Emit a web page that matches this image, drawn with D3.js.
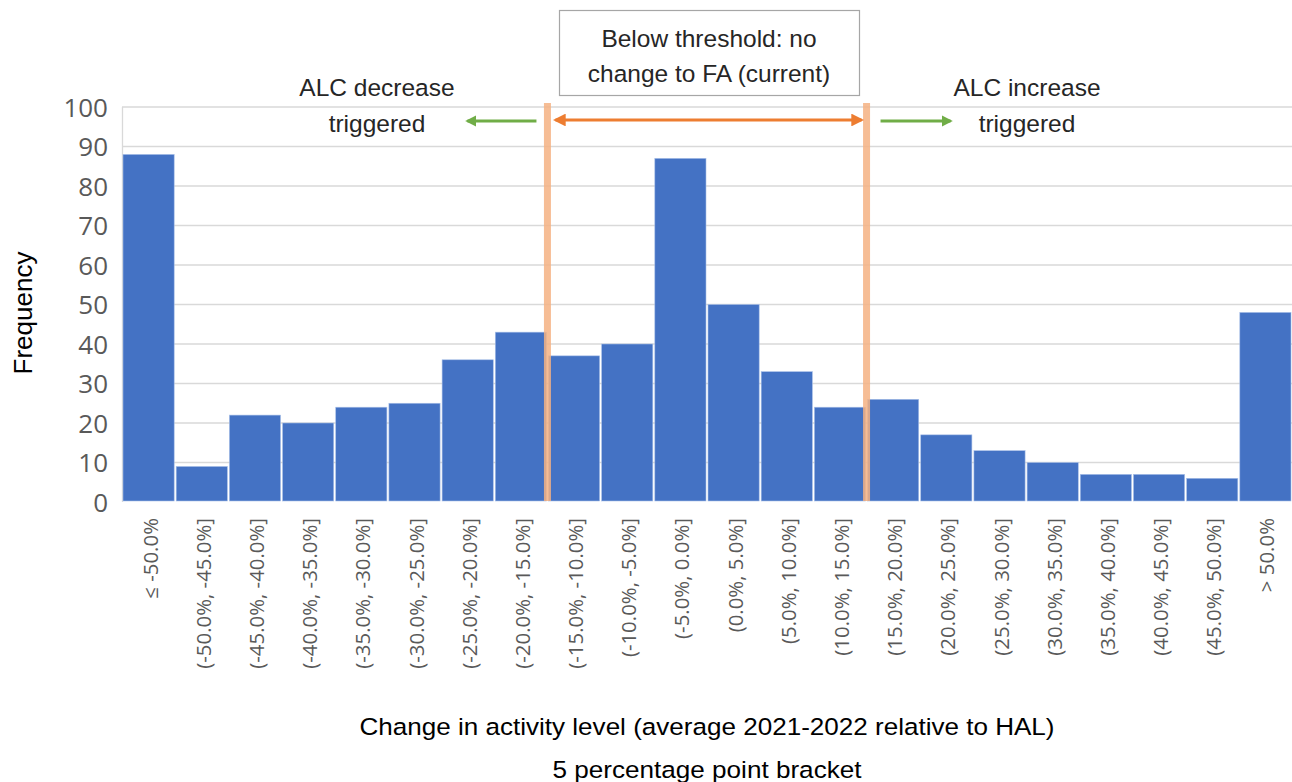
<!DOCTYPE html>
<html>
<head>
<meta charset="utf-8">
<script src="https://cdn.jsdelivr.net/npm/d3@7"></script>
<style>
  html, body { margin: 0; padding: 0; background: #fff; }
  svg { display: block; }
</style>
</head>
<body>
<svg id="chart" width="1292" height="782"></svg>
<script>
// Histogram buckets (5 percentage point brackets) and their frequencies
const categories = [
  "≤ -50.0%", "(-50.0%, -45.0%]", "(-45.0%, -40.0%]", "(-40.0%, -35.0%]",
  "(-35.0%, -30.0%]", "(-30.0%, -25.0%]", "(-25.0%, -20.0%]", "(-20.0%, -15.0%]",
  "(-15.0%, -10.0%]", "(-10.0%, -5.0%]", "(-5.0%, 0.0%]", "(0.0%, 5.0%]",
  "(5.0%, 10.0%]", "(10.0%, 15.0%]", "(15.0%, 20.0%]", "(20.0%, 25.0%]",
  "(25.0%, 30.0%]", "(30.0%, 35.0%]", "(35.0%, 40.0%]", "(40.0%, 45.0%]",
  "(45.0%, 50.0%]", "> 50.0%"
];
const frequencies = [88, 9, 22, 20, 24, 25, 36, 43, 37, 40, 87, 50, 33, 24, 26, 17, 13, 10, 7, 7, 6, 48];
const yTicks = [0, 10, 20, 30, 40, 50, 60, 70, 80, 90, 100];

// Threshold band: first bucket inside the band, and first bucket after it
const thresholdStart = 8;
const thresholdEnd = 14;

const svg = d3.select("#chart");
const plot = { left: 122, right: 1292, top: 107, bottom: 502 };

const x = d3.scaleBand().domain(categories).range([plot.left, plot.right]).paddingInner(0).paddingOuter(0);
const y = d3.scaleLinear().domain([0, 100]).range([plot.bottom, plot.top]);

const sans = "'Liberation Sans', Arial, sans-serif";
const tickFont = "'Open Sans', 'Segoe UI', sans-serif";

// Gridlines
svg.append("g")
  .selectAll("line")
  .data(yTicks.filter(d => d > 0))
  .join("line")
  .attr("x1", plot.left).attr("x2", plot.right)
  .attr("y1", d => y(d)).attr("y2", d => y(d))
  .attr("stroke", "#D9D9D9").attr("stroke-width", 1.3);

svg.append("line")
  .attr("x1", plot.left + 0.5).attr("x2", plot.left + 0.5)
  .attr("y1", y(100)).attr("y2", y(0))
  .attr("stroke", "#D9D9D9").attr("stroke-width", 1.3);

// Bars
svg.append("g")
  .selectAll("rect")
  .data(categories.map((c, i) => ({ c, v: frequencies[i] })))
  .join("rect")
  .attr("x", d => x(d.c) + 1)
  .attr("width", x.bandwidth() - 2)
  .attr("y", d => y(d.v))
  .attr("height", d => y(0) - y(d.v) - 1)
  .attr("fill", "#4472C4")
  .attr("stroke", "#A9C0E8")
  .attr("stroke-width", 0.6);

// Y axis labels
const yAxis = d3.axisLeft(y).tickValues(yTicks).tickSize(0).tickPadding(14);
const yg = svg.append("g").attr("transform", `translate(${plot.left},0)`).call(yAxis);
yg.select(".domain").remove();
yg.selectAll("text")
  .attr("font-family", tickFont).attr("font-size", 26).attr("fill", "#595959")
  .attr("dy", "0.36em");

// X axis labels (rotated)
const xAxis = d3.axisBottom(x).tickSize(0).tickPadding(0);
const xg = svg.append("g").attr("transform", `translate(0,${plot.bottom})`).call(xAxis);
xg.select(".domain").remove();
xg.selectAll("text")
  .attr("font-family", tickFont).attr("font-size", 20.4).attr("fill", "#595959")
  .attr("text-anchor", "end")
  .attr("dy", null).attr("y", 0)
  .attr("transform", "translate(9,16) rotate(-90)");

// Threshold band lines
const bandColor = "#F4B183";
[thresholdStart, thresholdEnd].forEach(i => {
  const bx = x(categories[i]);
  svg.append("rect")
    .attr("x", bx - 3.5).attr("width", 7)
    .attr("y", 103).attr("height", y(0) - 103 - 1)
    .attr("fill", bandColor).attr("opacity", 0.85);
});

// Arrow markers
const defs = svg.append("defs");
function marker(id, color, size) {
  defs.append("marker")
    .attr("id", id).attr("viewBox", "0 0 10 10")
    .attr("refX", 8).attr("refY", 5)
    .attr("markerWidth", size).attr("markerHeight", size)
    .attr("markerUnits", "strokeWidth")
    .attr("orient", "auto-start-reverse")
    .append("path").attr("d", "M0,0 L10,5 L0,10 Z").attr("fill", color);
}
marker("arrOrange", "#ED7D31", 4);
marker("arrGreen", "#70AD47", 4);

const arrowY = 120;
const lx = x(categories[thresholdStart]);
const rx = x(categories[thresholdEnd]);

svg.append("line")
  .attr("x1", lx + 8).attr("x2", rx - 5)
  .attr("y1", arrowY).attr("y2", arrowY)
  .attr("stroke", "#ED7D31").attr("stroke-width", 3.2)
  .attr("marker-start", "url(#arrOrange)").attr("marker-end", "url(#arrOrange)");

svg.append("line")
  .attr("x1", lx - 11).attr("x2", lx - 80)
  .attr("y1", arrowY + 1).attr("y2", arrowY + 1)
  .attr("stroke", "#70AD47").attr("stroke-width", 2.8)
  .attr("marker-end", "url(#arrGreen)");

svg.append("line")
  .attr("x1", rx + 14).attr("x2", rx + 84)
  .attr("y1", arrowY + 1).attr("y2", arrowY + 1)
  .attr("stroke", "#70AD47").attr("stroke-width", 2.8)
  .attr("marker-end", "url(#arrGreen)");

// Threshold text box
svg.append("rect")
  .attr("x", 559.5).attr("y", 10.5).attr("width", 300).attr("height", 85)
  .attr("fill", "#fff").attr("stroke", "#A6A6A6").attr("stroke-width", 1.2);
const boxText = svg.append("text")
  .attr("font-family", sans).attr("font-size", 24.5).attr("fill", "#262626")
  .attr("text-anchor", "middle");
boxText.append("tspan").attr("x", 709).attr("y", 47).text("Below threshold: no");
boxText.append("tspan").attr("x", 709).attr("y", 82).text("change to FA (current)");

// Side annotations
function sideNote(cx, lines) {
  const t = svg.append("text")
    .attr("font-family", sans).attr("font-size", 24.5).attr("fill", "#262626")
    .attr("text-anchor", "middle");
  t.append("tspan").attr("x", cx).attr("y", 96).text(lines[0]);
  t.append("tspan").attr("x", cx).attr("y", 132).text(lines[1]);
}
sideNote(377, ["ALC decrease", "triggered"]);
sideNote(1027, ["ALC increase", "triggered"]);

// Axis titles
svg.append("text")
  .attr("transform", "translate(32,313) rotate(-90)")
  .attr("text-anchor", "middle")
  .attr("font-family", sans).attr("font-size", 26).attr("fill", "#000")
  .text("Frequency");

svg.append("text")
  .attr("x", 707).attr("y", 735)
  .attr("text-anchor", "middle")
  .attr("font-family", sans).attr("font-size", 24.5).attr("fill", "#000")
  .attr("textLength", 695).attr("lengthAdjust", "spacingAndGlyphs")
  .text("Change in activity level (average 2021-2022 relative to HAL)");
svg.append("text")
  .attr("x", 707).attr("y", 778)
  .attr("text-anchor", "middle")
  .attr("font-family", sans).attr("font-size", 24.5).attr("fill", "#000")
  .attr("textLength", 309).attr("lengthAdjust", "spacingAndGlyphs")
  .text("5 percentage point bracket");
</script>
</body>
</html>
